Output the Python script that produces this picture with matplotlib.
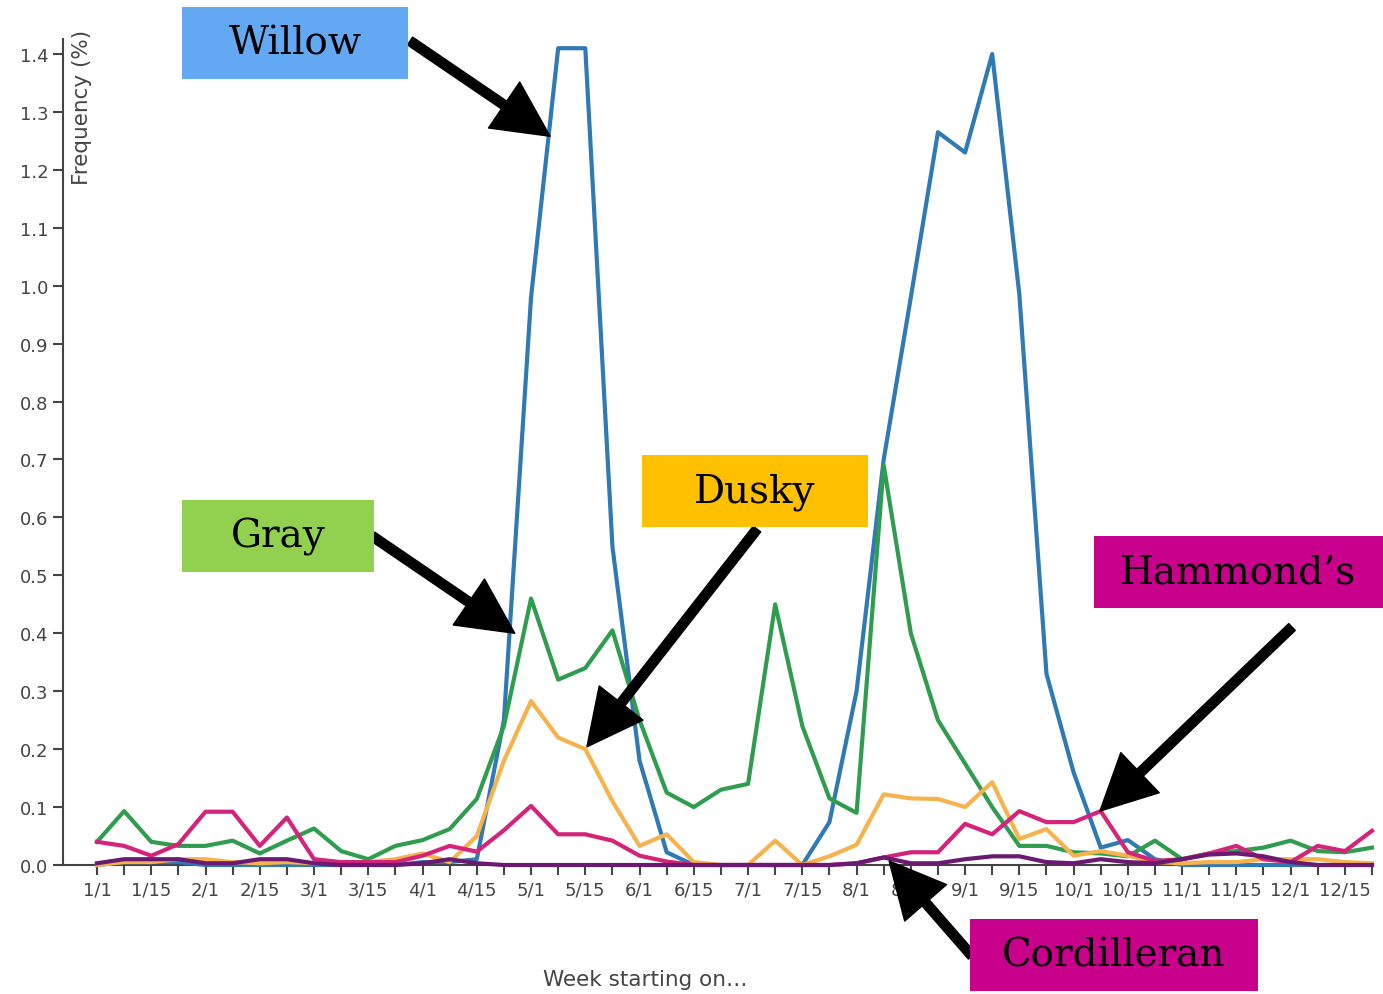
import matplotlib
matplotlib.use('Agg')
import matplotlib.pyplot as plt
from matplotlib.patches import Rectangle

# weekly frequency (%) values, 48 weeks
tick_labels = ['1/1', '1/15', '2/1', '2/15', '3/1', '3/15', '4/1', '4/15',
               '5/1', '5/15', '6/1', '6/15', '7/1', '7/15', '8/1', '8/15',
               '9/1', '9/15', '10/1', '10/15', '11/1', '11/15', '12/1', '12/15']

willow = [0, 0.005, 0.005, 0.005, 0, 0, 0, 0, 0, 0, 0, 0, 0.005, 0.005, 0.01, 0.25,
          0.98, 1.41, 1.41, 0.55, 0.18, 0.022, 0, 0, 0, 0, 0, 0.074, 0.30, 0.70, 0.98, 1.265,
          1.23, 1.40, 0.985, 0.33, 0.16, 0.03, 0.043, 0.01, 0, 0, 0, 0, 0, 0, 0, 0]
gray = [0.04, 0.093, 0.04, 0.033, 0.033, 0.042, 0.02, 0.042, 0.063, 0.024, 0.01, 0.033, 0.043, 0.062, 0.114, 0.24,
        0.46, 0.32, 0.34, 0.405, 0.25, 0.125, 0.10, 0.13, 0.14, 0.45, 0.24, 0.115, 0.09, 0.69, 0.40, 0.25,
        0.175, 0.10, 0.033, 0.033, 0.022, 0.02, 0.015, 0.042, 0.01, 0.02, 0.024, 0.03, 0.042, 0.024, 0.022, 0.03]
dusky = [0, 0.005, 0.005, 0.01, 0.01, 0.005, 0.003, 0.005, 0.003, 0.003, 0.005, 0.01, 0.02, 0.005, 0.05, 0.18,
         0.283, 0.22, 0.20, 0.11, 0.033, 0.053, 0.005, 0, 0, 0.042, 0, 0.015, 0.035, 0.122, 0.115, 0.114,
         0.10, 0.143, 0.045, 0.062, 0.016, 0.024, 0.016, 0.005, 0.003, 0.005, 0.005, 0.01, 0.01, 0.01, 0.005, 0.003]
hammonds = [0.04, 0.033, 0.016, 0.036, 0.092, 0.092, 0.033, 0.082, 0.01, 0.005, 0.005, 0.005, 0.016, 0.033, 0.023, 0.06,
            0.102, 0.053, 0.053, 0.042, 0.016, 0.006, 0, 0, 0, 0, 0, 0, 0.003, 0.013, 0.022, 0.022,
            0.071, 0.053, 0.093, 0.074, 0.074, 0.093, 0.022, 0.007, 0.01, 0.02, 0.033, 0.01, 0.005, 0.033, 0.024, 0.059]
cordilleran = [0.003, 0.01, 0.01, 0.01, 0.003, 0.003, 0.01, 0.01, 0.003, 0, 0, 0, 0.003, 0.01, 0.003, 0,
               0, 0, 0, 0, 0, 0, 0, 0, 0, 0, 0, 0, 0.003, 0.013, 0.003, 0.003,
               0.01, 0.015, 0.015, 0.005, 0.003, 0.01, 0.005, 0.003, 0.01, 0.018, 0.02, 0.015, 0.005, 0, 0, 0]

weeks = list(range(len(willow)))

W, H = 1383, 995
fig = plt.figure(figsize=(W / 100, H / 100), dpi=100)
ax = fig.add_axes([63 / W, 129 / H, (1372 - 63) / W, (866 - 40) / H])

ax.plot(weeks, willow, color='#2f79b5', lw=3, clip_on=False, zorder=3)
ax.plot(weeks, gray, color='#2f9c4e', lw=3, clip_on=False, zorder=3)
ax.plot(weeks, dusky, color='#f6b24c', lw=3, clip_on=False, zorder=3)
ax.plot(weeks, hammonds, color='#d4237a', lw=3, clip_on=False, zorder=3)
ax.plot(weeks, cordilleran, color='#6b1a72', lw=3, clip_on=False, zorder=4)

ax.set_xlim(-(97 - 63) / 27.13, 47)
ax.set_ylim(0, 1.4 + 15 / 579.3)

ax.set_xticks(weeks)
ax.set_xticklabels([tick_labels[i // 2] if i % 2 == 0 else '' for i in weeks])
ax.set_yticks([i / 10 for i in range(15)])
ax.set_yticklabels(['%.1f' % (i / 10) for i in range(15)])
ax.tick_params(axis='both', colors='#444444', labelsize=13, length=7, width=1.5, direction='out')
ax.tick_params(axis='x', pad=4)
for side in ['top', 'right']:
    ax.spines[side].set_visible(False)
ax.spines['left'].set_color('#444444')
ax.spines['bottom'].set_color('#444444')
ax.spines['left'].set_linewidth(1.5)
ax.spines['bottom'].set_linewidth(1.5)

fig.text(82 / W, 1 - 107 / H, 'Frequency (%)', rotation=90, ha='center', va='center',
         fontsize=15.5, color='#444444')
fig.text(645 / W, 1 - 980 / H, 'Week starting on…', ha='center', va='center',
         fontsize=15.5, color='#444444')

# callout boxes: name, colour, left, top, right, bottom (px), arrow tail (px), arrow tip (week, value)
boxes = [
    ('Willow', '#62a8f2', 182, 8, 408, 80, (410, 42), (16.7, 1.258)),
    ('Gray', '#92d050', 182, 501, 374, 573, (372, 537), (15.4, 0.40)),
    ('Dusky', '#ffc000', 642, 456, 868, 528, (757, 530), (18.06, 0.204)),
    ('Hammond’s', '#c8008c', 1094, 537, 1383, 609, (1292, 628), (36.97, 0.093)),
    ('Cordilleran', '#c8008c', 970, 920, 1258, 992, (972, 957), (29.2, 0.007)),
]
for name, col, x0, y0, x1, y1, tail, tip in boxes:
    fig.add_artist(Rectangle((x0 / W, 1 - y1 / H), (x1 - x0) / W, (y1 - y0) / H,
                             transform=fig.transFigure, facecolor=col, edgecolor='none', zorder=5))
    fig.text((x0 + x1) / 2 / W, 1 - (y0 + y1) / 2 / H, name, ha='center', va='center',
             fontsize=28, family='DejaVu Serif', color='black', zorder=6)
    ax.annotate('', xy=tip, xycoords='data', xytext=(tail[0] / W, 1 - tail[1] / H),
                textcoords='figure fraction', annotation_clip=False,
                arrowprops=dict(arrowstyle='simple,head_length=1.0,head_width=1.0,tail_width=0.17',
                                mutation_scale=40, color='black', shrinkA=0, shrinkB=0), zorder=7)

fig.savefig('out.png', dpi=100)
